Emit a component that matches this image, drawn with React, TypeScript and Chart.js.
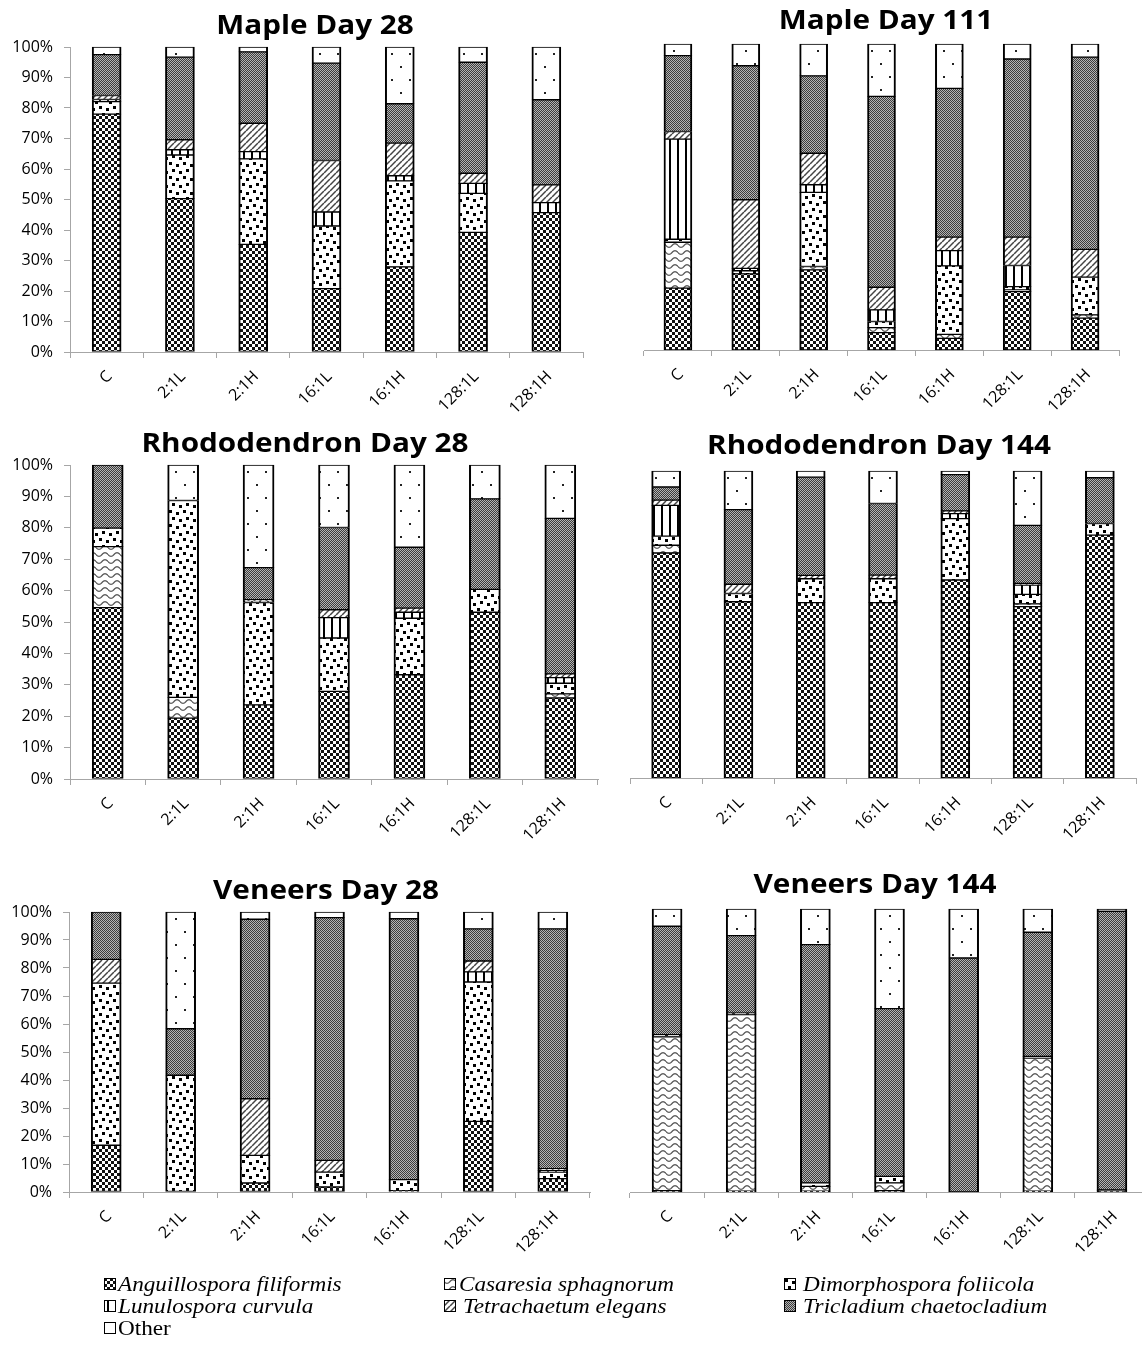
import React, { useEffect, useRef } from 'react';
import { Chart, registerables } from 'chart.js';

Chart.register(...registerables);

// ---------- shared labels ----------
const categories = ['C', '2:1L', '2:1H', '16:1L', '16:1H', '128:1L', '128:1H'];
const speciesNames = [
  'Anguillospora filiformis',
  'Casaresia sphagnorum',
  'Dimorphospora foliicola',
  'Lunulospora curvula',
  'Tetrachaetum elegans',
  'Tricladium chaetocladium',
  'Other',
];
const yTickStep = 10;

// ---------- relative abundance (%) ----------
// Maple, day 28
const maple28Anguillospora = [78.0, 50.3, 35.3, 20.8, 27.9, 39.2, 45.7];
const maple28Casaresia = [0, 0, 0, 0, 0, 0, 0];
const maple28Dimorphospora = [4.1, 14.3, 28.0, 20.5, 28.2, 12.8, 0];
const maple28Lunulospora = [0.7, 1.7, 2.4, 4.6, 1.7, 3.3, 3.3];
const maple28Tetrachaetum = [1.3, 3.3, 9.3, 16.9, 10.7, 3.3, 5.8];
const maple28Tricladium = [13.4, 27.1, 23.4, 31.9, 12.9, 36.4, 27.9];
const maple28Other = [2.5, 3.3, 1.6, 5.3, 18.6, 5.0, 17.3];

// Maple, day 111
const maple111Anguillospora = [20.2, 24.9, 26.2, 5.7, 3.8, 19.1, 10.4];
const maple111Casaresia = [15.0, 0, 1.1, 1.6, 1.3, 0.5, 1.1];
const maple111Dimorphospora = [1.0, 1.0, 24.2, 2.0, 22.4, 1.1, 12.3];
const maple111Lunulospora = [32.7, 0.8, 2.5, 3.8, 5.0, 6.9, 0];
const maple111Tetrachaetum = [2.5, 22.4, 10.3, 7.4, 4.4, 9.3, 9.1];
const maple111Tricladium = [24.8, 43.8, 25.3, 62.4, 48.6, 58.2, 62.8];
const maple111Other = [3.8, 7.1, 10.4, 17.1, 14.5, 4.9, 4.3];

// Rhododendron, day 28
const rhodo28Anguillospora = [54.6, 19.4, 23.6, 27.9, 33.2, 53.1, 25.8];
const rhodo28Casaresia = [19.4, 6.6, 0, 0, 0, 0, 1.3];
const rhodo28Dimorphospora = [5.9, 62.7, 32.6, 17.0, 18.0, 7.3, 3.4];
const rhodo28Lunulospora = [0, 0, 0.5, 6.5, 1.9, 0, 1.8];
const rhodo28Tetrachaetum = [0, 0, 0.4, 2.5, 1.3, 0, 1.2];
const rhodo28Tricladium = [20.1, 0, 10.2, 26.2, 19.4, 28.8, 49.5];
const rhodo28Other = [0, 11.3, 32.7, 19.9, 26.2, 10.8, 17.0];

// Rhododendron, day 144
const rhodo144Anguillospora = [73.3, 57.4, 57.1, 57.1, 64.5, 55.8, 79.1];
const rhodo144Casaresia = [2.5, 0, 0, 0, 0, 0.9, 0];
const rhodo144Dimorphospora = [3.0, 2.7, 7.8, 7.8, 20.0, 3.1, 3.8];
const rhodo144Lunulospora = [10.0, 0, 0, 0, 1.6, 3.0, 0];
const rhodo144Tetrachaetum = [1.7, 3.0, 1.1, 1.2, 0.9, 0.6, 0];
const rhodo144Tricladium = [4.3, 24.3, 32.0, 23.3, 11.8, 18.9, 14.9];
const rhodo144Other = [5.2, 12.6, 2.0, 10.6, 1.2, 17.7, 2.2];

// Veneers, day 28
const veneers28Anguillospora = [16.7, 0, 3.2, 1.8, 0.5, 25.2, 4.8];
const veneers28Casaresia = [0, 0, 0, 0, 0, 0, 0];
const veneers28Dimorphospora = [57.9, 41.7, 9.9, 5.3, 3.9, 49.8, 2.3];
const veneers28Lunulospora = [0, 0, 0, 0, 0, 3.6, 0.6];
const veneers28Tetrachaetum = [8.5, 0, 20.2, 4.2, 0, 3.9, 0.6];
const veneers28Tricladium = [16.9, 16.6, 64.1, 86.7, 93.2, 11.5, 85.7];
const veneers28Other = [0, 41.7, 2.6, 2.0, 2.4, 6.0, 6.0];

// Veneers, day 144
const veneers144Anguillospora = [0.5, 0.3, 0.3, 0.5, 0, 0.3, 0.5];
const veneers144Casaresia = [54.3, 62.4, 1.7, 2.7, 0, 47.0, 0.3];
const veneers144Dimorphospora = [0.8, 0.5, 1.2, 2.3, 0, 0.6, 0];
const veneers144Lunulospora = [0, 0, 0, 0, 0, 0, 0];
const veneers144Tetrachaetum = [0, 0, 0, 0, 0, 0, 0];
const veneers144Tricladium = [38.3, 27.4, 84.2, 59.3, 82.7, 43.9, 98.4];
const veneers144Other = [6.1, 9.4, 12.6, 35.2, 17.3, 8.2, 0.8];

// ---------- hatch fills ----------
function makeTile(w: number, h: number, draw: (g: CanvasRenderingContext2D) => void) {
  const c = document.createElement('canvas');
  c.width = w;
  c.height = h;
  const g = c.getContext('2d')!;
  g.fillStyle = '#fff';
  g.fillRect(0, 0, w, h);
  draw(g);
  return c;
}

const tileCache: Record<number, HTMLCanvasElement> = {};

function speciesTile(idx: number): HTMLCanvasElement {
  if (tileCache[idx]) return tileCache[idx];
  let tile: HTMLCanvasElement;
  switch (idx) {
    case 0: // checkerboard
      tile = makeTile(6, 6, (g) => {
        g.fillStyle = '#111';
        g.fillRect(0, 0, 3, 3);
        g.fillRect(3, 3, 3, 3);
      });
      break;
    case 1: // wave
      tile = makeTile(12, 7, (g) => {
        g.strokeStyle = '#555';
        g.lineWidth = 1.3;
        g.beginPath();
        for (let x = 0; x <= 12; x += 0.5) {
          const y = 3.5 + 1.8 * Math.sin((x / 12) * Math.PI * 2);
          if (x === 0) g.moveTo(x, y);
          else g.lineTo(x, y);
        }
        g.stroke();
      });
      break;
    case 2: // large dots
      tile = makeTile(14, 14, (g) => {
        g.fillStyle = '#000';
        g.fillRect(1, 1, 3, 3);
        g.fillRect(8, 3, 3, 3);
        g.fillRect(4, 8, 3, 3);
        g.fillRect(11, 10, 3, 3);
      });
      break;
    case 3: // vertical lines
      tile = makeTile(8, 4, (g) => {
        g.fillStyle = '#000';
        g.fillRect(3, 0, 2, 4);
      });
      break;
    case 4: // diagonal hatch
      tile = makeTile(6, 6, (g) => {
        g.strokeStyle = '#444';
        g.lineWidth = 1.5;
        for (let k = -1; k <= 1; k++) {
          g.beginPath();
          g.moveTo(k * 6, 6);
          g.lineTo(k * 6 + 6, 0);
          g.stroke();
        }
      });
      break;
    case 5: // fine grey stipple
      tile = makeTile(2, 2, (g) => {
        g.fillStyle = '#b4b4b4';
        g.fillRect(0, 0, 2, 2);
        g.fillStyle = '#3c3c3c';
        g.fillRect(0, 0, 1, 1);
        g.fillRect(1, 1, 1, 1);
      });
      break;
    default: // sparse dots
      tile = makeTile(18, 26, (g) => {
        g.fillStyle = '#222';
        g.fillRect(4, 5, 2, 2);
        g.fillRect(13, 18, 2, 2);
      });
  }
  tileCache[idx] = tile;
  return tile;
}

function speciesPattern(ctx: CanvasRenderingContext2D, idx: number): CanvasPattern {
  return ctx.createPattern(speciesTile(idx), 'repeat')!;
}

// ---------- panels ----------
type PanelLayout = {
  canvasLeft: number;
  left: number;
  right: number;
  top: number;
  bottom: number;
  showY: boolean;
  bar: number;
  titleX: number;
  titleTop: number;
};

type Panel = { title: string; series: number[][]; layout: PanelLayout };

const panels: Panel[] = [
  {
    title: 'Maple Day 28',
    series: [maple28Anguillospora, maple28Casaresia, maple28Dimorphospora, maple28Lunulospora, maple28Tetrachaetum, maple28Tricladium, maple28Other],
    layout: { canvasLeft: 0, left: 70, right: 583, top: 47, bottom: 352, showY: true, bar: 29, titleX: 315, titleTop: 10 },
  },
  {
    title: 'Maple Day 111',
    series: [maple111Anguillospora, maple111Casaresia, maple111Dimorphospora, maple111Lunulospora, maple111Tetrachaetum, maple111Tricladium, maple111Other],
    layout: { canvasLeft: 570, left: 644, right: 1119, top: 44, bottom: 350, showY: false, bar: 28, titleX: 886, titleTop: 5 },
  },
  {
    title: 'Rhododendron Day 28',
    series: [rhodo28Anguillospora, rhodo28Casaresia, rhodo28Dimorphospora, rhodo28Lunulospora, rhodo28Tetrachaetum, rhodo28Tricladium, rhodo28Other],
    layout: { canvasLeft: 0, left: 70, right: 598, top: 465, bottom: 779, showY: true, bar: 31, titleX: 305, titleTop: 428 },
  },
  {
    title: 'Rhododendron Day 144',
    series: [rhodo144Anguillospora, rhodo144Casaresia, rhodo144Dimorphospora, rhodo144Lunulospora, rhodo144Tetrachaetum, rhodo144Tricladium, rhodo144Other],
    layout: { canvasLeft: 570, left: 630, right: 1136, top: 471, bottom: 778, showY: false, bar: 29, titleX: 879, titleTop: 430 },
  },
  {
    title: 'Veneers Day 28',
    series: [veneers28Anguillospora, veneers28Casaresia, veneers28Dimorphospora, veneers28Lunulospora, veneers28Tetrachaetum, veneers28Tricladium, veneers28Other],
    layout: { canvasLeft: 0, left: 69, right: 590, top: 912, bottom: 1192, showY: true, bar: 30, titleX: 326, titleTop: 875 },
  },
  {
    title: 'Veneers Day 144',
    series: [veneers144Anguillospora, veneers144Casaresia, veneers144Dimorphospora, veneers144Lunulospora, veneers144Tetrachaetum, veneers144Tricladium, veneers144Other],
    layout: { canvasLeft: 570, left: 630, right: 1149, top: 909, bottom: 1192, showY: false, bar: 30, titleX: 875, titleTop: 869 },
  },
];

const TOP_PAD = 12;
const RIGHT_PAD = 24;
const X_AXIS_H = 62;
const AXIS_GREY = '#a6a6a6';
const TICK_FONT = { family: "'Open Sans', sans-serif", size: 16 };

// Category names drawn at 45°, with the end of each name just under its bar.
const rotatedCategoryLabels = {
  id: 'rotatedCategoryLabels',
  afterDraw(chart: any) {
    const xs = chart.scales.x;
    const c: CanvasRenderingContext2D = chart.ctx;
    c.save();
    c.font = `${TICK_FONT.size}px ${TICK_FONT.family}`;
    c.fillStyle = '#000';
    c.textAlign = 'right';
    c.textBaseline = 'middle';
    (chart.data.labels as string[]).forEach((lab, i) => {
      const x = xs.getPixelForValue(i);
      c.save();
      c.translate(x + 3, xs.top + 22);
      c.rotate(-Math.PI / 4);
      c.fillText(lab, 0, 0);
      c.restore();
    });
    c.restore();
  },
};

function PanelChart({ panel }: { panel: Panel }) {
  const ref = useRef<HTMLCanvasElement>(null);
  const L = panel.layout;
  const canvasTop = L.top - TOP_PAD;
  const width = Math.round(L.right - L.canvasLeft + RIGHT_PAD);
  const height = Math.round(L.bottom - canvasTop + X_AXIS_H);
  const yWidth = L.left - L.canvasLeft;

  useEffect(() => {
    const ctx = ref.current!.getContext('2d')!;
    const chart = new Chart(ctx, {
      type: 'bar',
      data: {
        labels: categories,
        datasets: panel.series.map((values, i) => ({
          label: speciesNames[i],
          data: values,
          backgroundColor: speciesPattern(ctx, i),
          borderColor: '#000',
          borderWidth: { top: 1, bottom: 1, left: 2, right: 2 },
          borderSkipped: false,
          barThickness: L.bar,
          clip: false,
        })),
      },
      plugins: [rotatedCategoryLabels],
      options: {
        responsive: false,
        animation: false,
        devicePixelRatio: 1,
        layout: {
          padding: { left: 0, top: TOP_PAD, right: RIGHT_PAD, bottom: 0 },
        },
        plugins: {
          legend: { display: false },
          tooltip: { enabled: false },
          title: { display: false },
        },
        scales: {
          x: {
            stacked: true,
            grid: { display: true, drawOnChartArea: false, drawTicks: true, tickLength: 6, color: AXIS_GREY, offset: true },
            border: { display: true, color: AXIS_GREY, width: 1 },
            ticks: { display: false, autoSkip: false },
            afterFit: (s: any) => {
              s.height = X_AXIS_H;
              s.paddingLeft = 0;
              s.paddingRight = 0;
            },
          },
          y: {
            display: L.showY,
            stacked: true,
            min: 0,
            max: 100,
            grid: { display: true, drawOnChartArea: false, drawTicks: true, tickLength: 6, color: AXIS_GREY },
            border: { display: true, color: AXIS_GREY, width: 1 },
            ticks: {
              stepSize: yTickStep,
              color: '#000',
              font: TICK_FONT,
              padding: 11,
              callback: (v: any) => `${v}%`,
            },
            afterFit: (s: any) => {
              s.width = yWidth;
              s.paddingTop = 0;
              s.paddingBottom = 0;
            },
          },
        },
      },
    });
    return () => chart.destroy();
  }, []);

  return (
    <canvas
      ref={ref}
      width={width}
      height={height}
      style={{ position: 'absolute', left: L.canvasLeft, top: canvasTop, width, height }}
    />
  );
}

function PanelTitle({ panel }: { panel: Panel }) {
  const L = panel.layout;
  return (
    <div
      style={{
        position: 'absolute',
        left: L.titleX - 300,
        top: L.titleTop,
        width: 600,
        textAlign: 'center',
        fontFamily: "'Open Sans', sans-serif",
        fontWeight: 700,
        fontSize: 27,
        lineHeight: '28px',
        color: '#000',
        transform: 'scaleX(1.1)',
        transformOrigin: 'center',
        whiteSpace: 'nowrap',
      }}
    >
      {panel.title}
    </div>
  );
}

// ---------- legend ----------
const legendColumns = [104, 444, 784];
const legendRows = [1284, 1306, 1328];
const legendTextGap = [14, 15, 19, 14, 19, 19, 14];

function Swatch({ idx }: { idx: number }) {
  const ref = useRef<HTMLCanvasElement>(null);
  useEffect(() => {
    const g = ref.current!.getContext('2d')!;
    g.fillStyle = idx === 6 ? '#fff' : speciesPattern(g, idx);
    g.fillRect(0, 0, 12, 12);
    g.strokeStyle = '#000';
    g.lineWidth = 1;
    g.strokeRect(0.5, 0.5, 11, 11);
  }, []);
  return <canvas ref={ref} width={12} height={12} style={{ display: 'block' }} />;
}

function Legend() {
  return (
    <>
      {speciesNames.map((name, i) => {
        const col = i === 6 ? 0 : i % 3;
        const row = i === 6 ? 2 : Math.floor(i / 3);
        const x = legendColumns[col];
        const y = legendRows[row];
        return (
          <div key={name}>
            <div style={{ position: 'absolute', left: x, top: y - 6 }}>
              <Swatch idx={i} />
            </div>
            <div
              style={{
                position: 'absolute',
                left: x + legendTextGap[i],
                top: y - 12,
                lineHeight: '24px',
                fontFamily: "'Liberation Serif', 'Times New Roman', serif",
                fontStyle: i === 6 ? 'normal' : 'italic',
                fontSize: 20,
                color: '#000',
                whiteSpace: 'nowrap',
                transform: 'scaleX(1.16)',
                transformOrigin: 'left center',
              }}
            >
              {name}
            </div>
          </div>
        );
      })}
    </>
  );
}

export default function App() {
  return (
    <div
      style={{
        position: 'absolute',
        left: 0,
        top: 0,
        width: 1142,
        height: 1348,
        overflow: 'hidden',
        background: '#fff',
      }}
    >
      {panels.map((p) => (
        <PanelChart key={p.title} panel={p} />
      ))}
      {panels.map((p) => (
        <PanelTitle key={'t' + p.title} panel={p} />
      ))}
      <Legend />
    </div>
  );
}
